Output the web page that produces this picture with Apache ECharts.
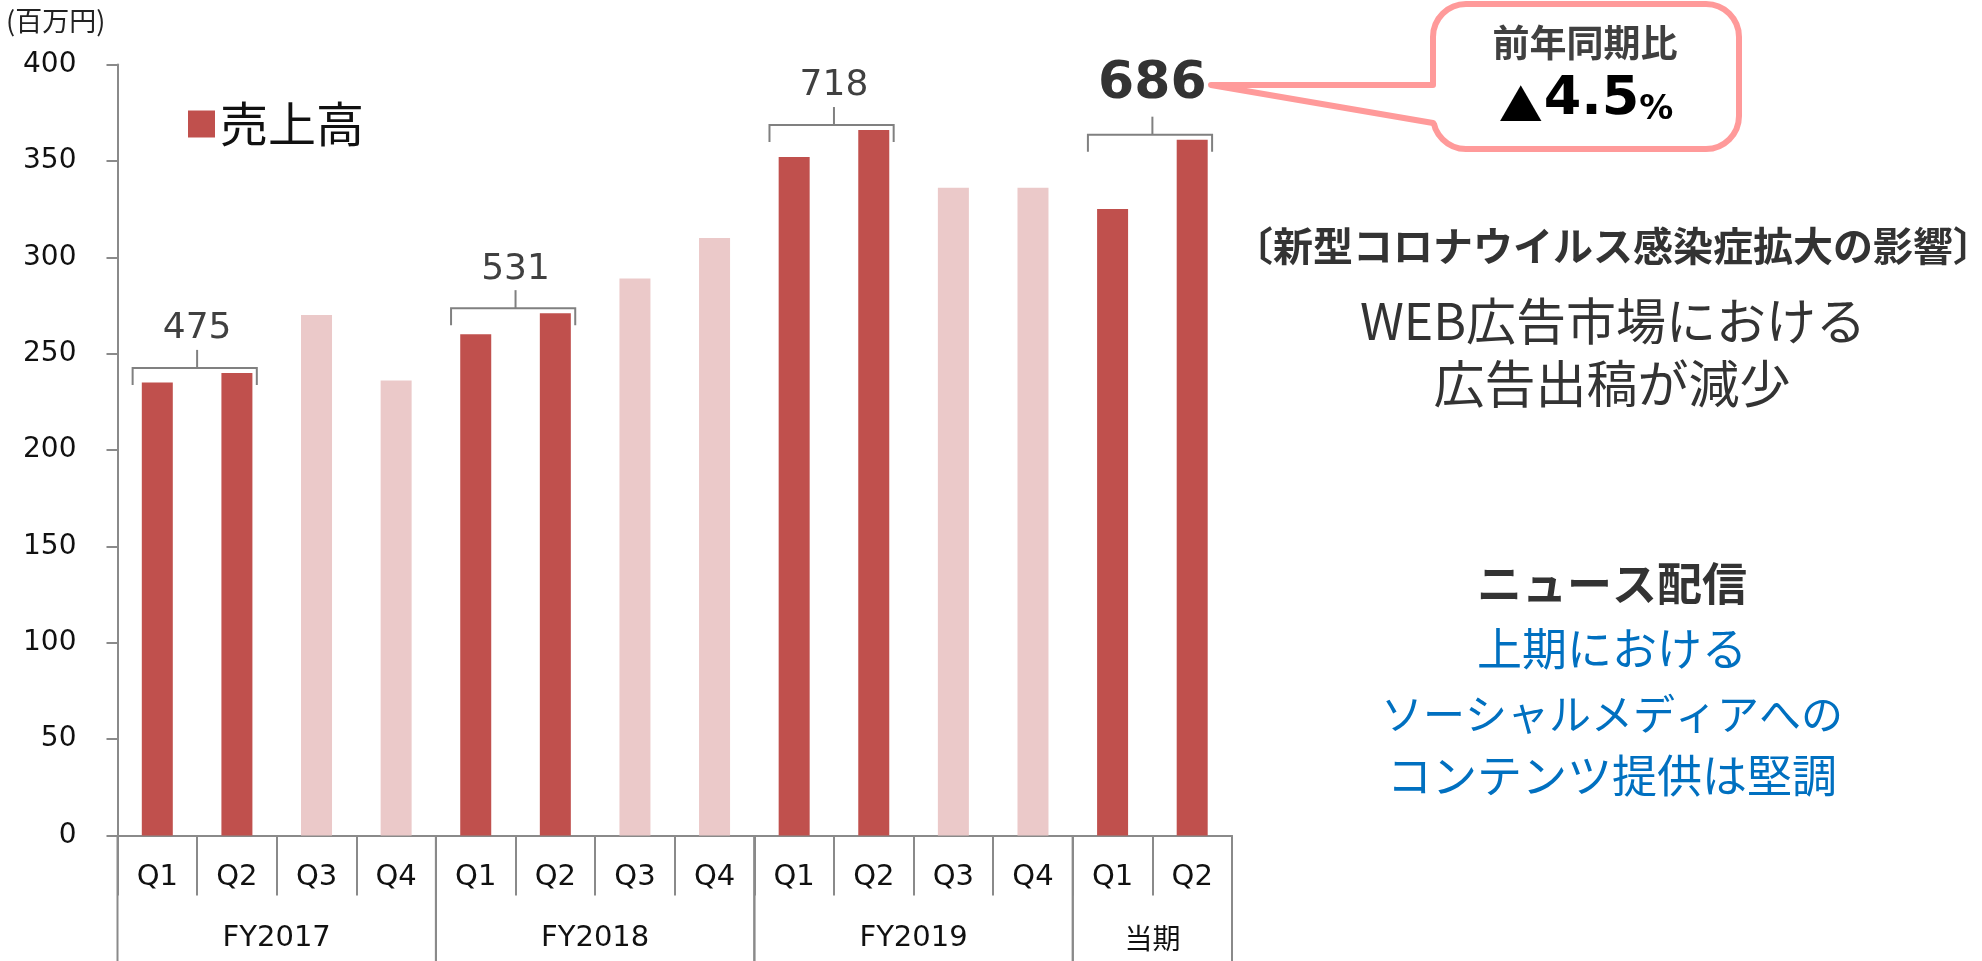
<!DOCTYPE html>
<html>
<head>
<meta charset="utf-8">
<script src="https://cdn.jsdelivr.net/npm/echarts@6/dist/echarts.min.js"></script>
<style>
html,body{margin:0;padding:0;background:#fff;}
#chart{width:1982px;height:961px;}
</style>
</head>
<body>
<div id="chart"></div>
<script>
// ---- data ----
const quarters = ['Q1','Q2','Q3','Q4','Q1','Q2','Q3','Q4','Q1','Q2','Q3','Q4','Q1','Q2'];
const sales = [235, 240, 270, 236, 260, 271, 289, 310, 352, 366, 336, 336, 325, 361];
const years = ['FY2017', 'FY2018', 'FY2019', '当期'];
const yearSpans = [[0, 3], [4, 7], [8, 11], [12, 13]];
const halfPairs = [[0, 1], [4, 5], [8, 9], [12, 13]];
const halfTotals = [475, 531, 718, 686];
const yMin = 0, yMax = 400, yInterval = 50;
const seriesName = '売上高';
const unitLabel = '(百万円)';

const DARK = '#C0504D';
const LIGHT = '#EBC9C9';
const AXIS = '#8A8A8A';
const PINK = '#FF9A9A';
const FONT = 'DejaVu Sans';
const JP = 'Noto Sans CJK JP';

const barData = sales.map((v, i) => ({
  value: v,
  itemStyle: { color: (quarters[i] === 'Q1' || quarters[i] === 'Q2') ? DARK : LIGHT }
}));

const bracketData = halfPairs.map((p, k) => [p[0], p[1], sales[p[0]], sales[p[1]], halfTotals[k], k === halfPairs.length - 1 ? 1 : 0]);
const yearData = yearSpans.map(s => [s[0], s[1]]);

const chart = echarts.init(document.getElementById('chart'));

const option = {
  animation: false,
  backgroundColor: '#fff',
  grid: { left: 117.5, right: 750, top: 64.5, bottom: 125.5 },
  legend: {
    data: [seriesName],
    left: 183, top: 95,
    icon: 'rect',
    itemWidth: 27, itemHeight: 27, itemGap: 10,
    textStyle: { fontFamily: JP, fontSize: 48, color: '#111' }
  },
  xAxis: {
    type: 'category',
    data: quarters,
    axisLine: { lineStyle: { color: AXIS, width: 2 } },
    axisTick: { show: true, interval: 0, length: 60, lineStyle: { color: AXIS, width: 2 } },
    axisLabel: { interval: 0, fontFamily: FONT, fontSize: 29, color: '#111', margin: 27 },
    splitLine: { show: false }
  },
  yAxis: {
    type: 'value',
    min: yMin, max: yMax, interval: yInterval,
    axisLine: { show: true, lineStyle: { color: AXIS, width: 2 } },
    axisTick: { show: true, length: 11, lineStyle: { color: AXIS, width: 2 } },
    axisLabel: { fontFamily: FONT, fontSize: 28, color: '#111', margin: 41 },
    splitLine: { show: false }
  },
  series: [
    {
      name: seriesName,
      type: 'bar',
      data: barData,
      barWidth: 31,
      itemStyle: { color: DARK }
    },
    {
      type: 'custom',
      data: bracketData,
      silent: true,
      clip: false,
      z: 5,
      renderItem: function (params, api) {
        const a = api.coord([api.value(0), api.value(2)]);
        const b = api.coord([api.value(1), api.value(3)]);
        const bw = api.size([1, 0])[0];
        const yTop = Math.min(a[1], b[1]) - 5;
        const xl = a[0] - 0.31 * bw;
        const xr = b[0] + 0.25 * bw;
        const xm = (a[0] + b[0]) / 2;
        const big = api.value(5) === 1;
        const stemTop = yTop - 18;
        const ls = { stroke: '#808080', lineWidth: 2, fill: null };
        return {
          type: 'group',
          children: [
            { type: 'polyline', shape: { points: [[xl, yTop + 17], [xl, yTop], [xr, yTop], [xr, yTop + 17]] }, style: ls },
            { type: 'line', shape: { x1: xm, y1: yTop, x2: xm, y2: stemTop }, style: ls },
            {
              type: 'text',
              style: {
                x: xm, y: stemTop - (big ? 32 : 21),
                text: String(api.value(4)),
                textAlign: 'center', textVerticalAlign: 'middle',
                font: big ? ('bold 52px "DejaVu Sans"') : ('36px "' + FONT + '"'),
                fill: big ? '#333' : '#404040'
              }
            }
          ]
        };
      }
    },
    {
      type: 'custom',
      data: yearData,
      silent: true,
      clip: false,
      renderItem: function (params, api) {
        const bw = api.size([1, 0])[0];
        const p0 = api.coord([api.value(0), 0]);
        const p1 = api.coord([api.value(1), 0]);
        const xl = p0[0] - bw / 2;
        const xr = p1[0] + bw / 2;
        const y0 = p0[1];
        const ls = { stroke: AXIS, lineWidth: 2 };
        const isJp = years[params.dataIndex] === '当期';
        return {
          type: 'group',
          children: [
            { type: 'line', shape: { x1: xl, y1: y0, x2: xl, y2: 961 }, style: ls },
            { type: 'line', shape: { x1: xr, y1: y0, x2: xr, y2: 961 }, style: ls },
            {
              type: 'text',
              style: {
                x: (xl + xr) / 2, y: y0 + 103,
                text: years[params.dataIndex],
                textAlign: 'center', textVerticalAlign: 'middle',
                font: isJp ? ('28px "' + JP + '"') : ('29px "' + FONT + '"'),
                fill: '#111'
              }
            }
          ]
        };
      }
    }
  ],
  graphic: [
    {
      type: 'text', left: 6, top: 7,
      style: { text: unitLabel, font: '27px "' + JP + '"', fill: '#222' }
    },
    {
      type: 'rect', z: 10,
      shape: { x: 1433, y: 4, width: 306, height: 145, r: 33 },
      style: { fill: '#fff', stroke: PINK, lineWidth: 6 }
    },
    {
      type: 'polygon', z: 11,
      shape: { points: [[1211, 85], [1440, 85], [1440, 123]] },
      style: { fill: '#fff', stroke: null }
    },
    {
      type: 'polyline', z: 12,
      shape: { points: [[1433, 85], [1211, 85], [1433, 123]] },
      style: { stroke: PINK, lineWidth: 6, fill: null, lineJoin: 'round', lineCap: 'round' }
    },
    {
      type: 'text', x: 1585, y: 43, z: 13,
      style: { text: '前年同期比', font: 'bold 37px "' + JP + '"', fill: '#404040', textAlign: 'center', textVerticalAlign: 'middle' }
    },
    {
      type: 'text', x: 1586, y: 100, z: 13,
      style: {
        text: '{a|▲}{b|4.5}{c|%}',
        textAlign: 'center', textVerticalAlign: 'middle',
        rich: {
          a: { fontFamily: JP, fontSize: 44, color: '#404040', verticalAlign: 'bottom', padding: [0, 1, 0, 0] },
          b: { fontFamily: 'DejaVu Sans', fontWeight: 'bold', fontSize: 54, color: '#404040', verticalAlign: 'bottom' },
          c: { fontFamily: 'DejaVu Sans', fontWeight: 'bold', fontSize: 34, color: '#404040', verticalAlign: 'bottom' }
        }
      }
    },
    {
      type: 'text', x: 1613, y: 246,
      style: { text: '〔新型コロナウイルス感染症拡大の影響〕', font: 'bold 40px "' + JP + '"', fill: '#333', textAlign: 'center', textVerticalAlign: 'middle' }
    },
    {
      type: 'text', x: 1613, y: 321,
      style: { text: 'WEB広告市場における', font: '50px "' + JP + '"', fill: '#333', textAlign: 'center', textVerticalAlign: 'middle' }
    },
    {
      type: 'text', x: 1612, y: 384,
      style: { text: '広告出稿が減少', font: '51px "' + JP + '"', fill: '#333', textAlign: 'center', textVerticalAlign: 'middle' }
    },
    {
      type: 'text', x: 1612, y: 584,
      style: { text: 'ニュース配信', font: 'bold 45px "' + JP + '"', fill: '#333', textAlign: 'center', textVerticalAlign: 'middle' }
    },
    {
      type: 'text', x: 1612, y: 649,
      style: { text: '上期における', font: '45px "' + JP + '"', fill: '#0070C0', textAlign: 'center', textVerticalAlign: 'middle' }
    },
    {
      type: 'text', x: 1612, y: 714,
      style: { text: 'ソーシャルメディアへの', font: '42px "' + JP + '"', fill: '#0070C0', textAlign: 'center', textVerticalAlign: 'middle' }
    },
    {
      type: 'text', x: 1612, y: 776,
      style: { text: 'コンテンツ提供は堅調', font: '45px "' + JP + '"', fill: '#0070C0', textAlign: 'center', textVerticalAlign: 'middle' }
    }
  ]
};

chart.setOption(option);
</script>
</body>
</html>
